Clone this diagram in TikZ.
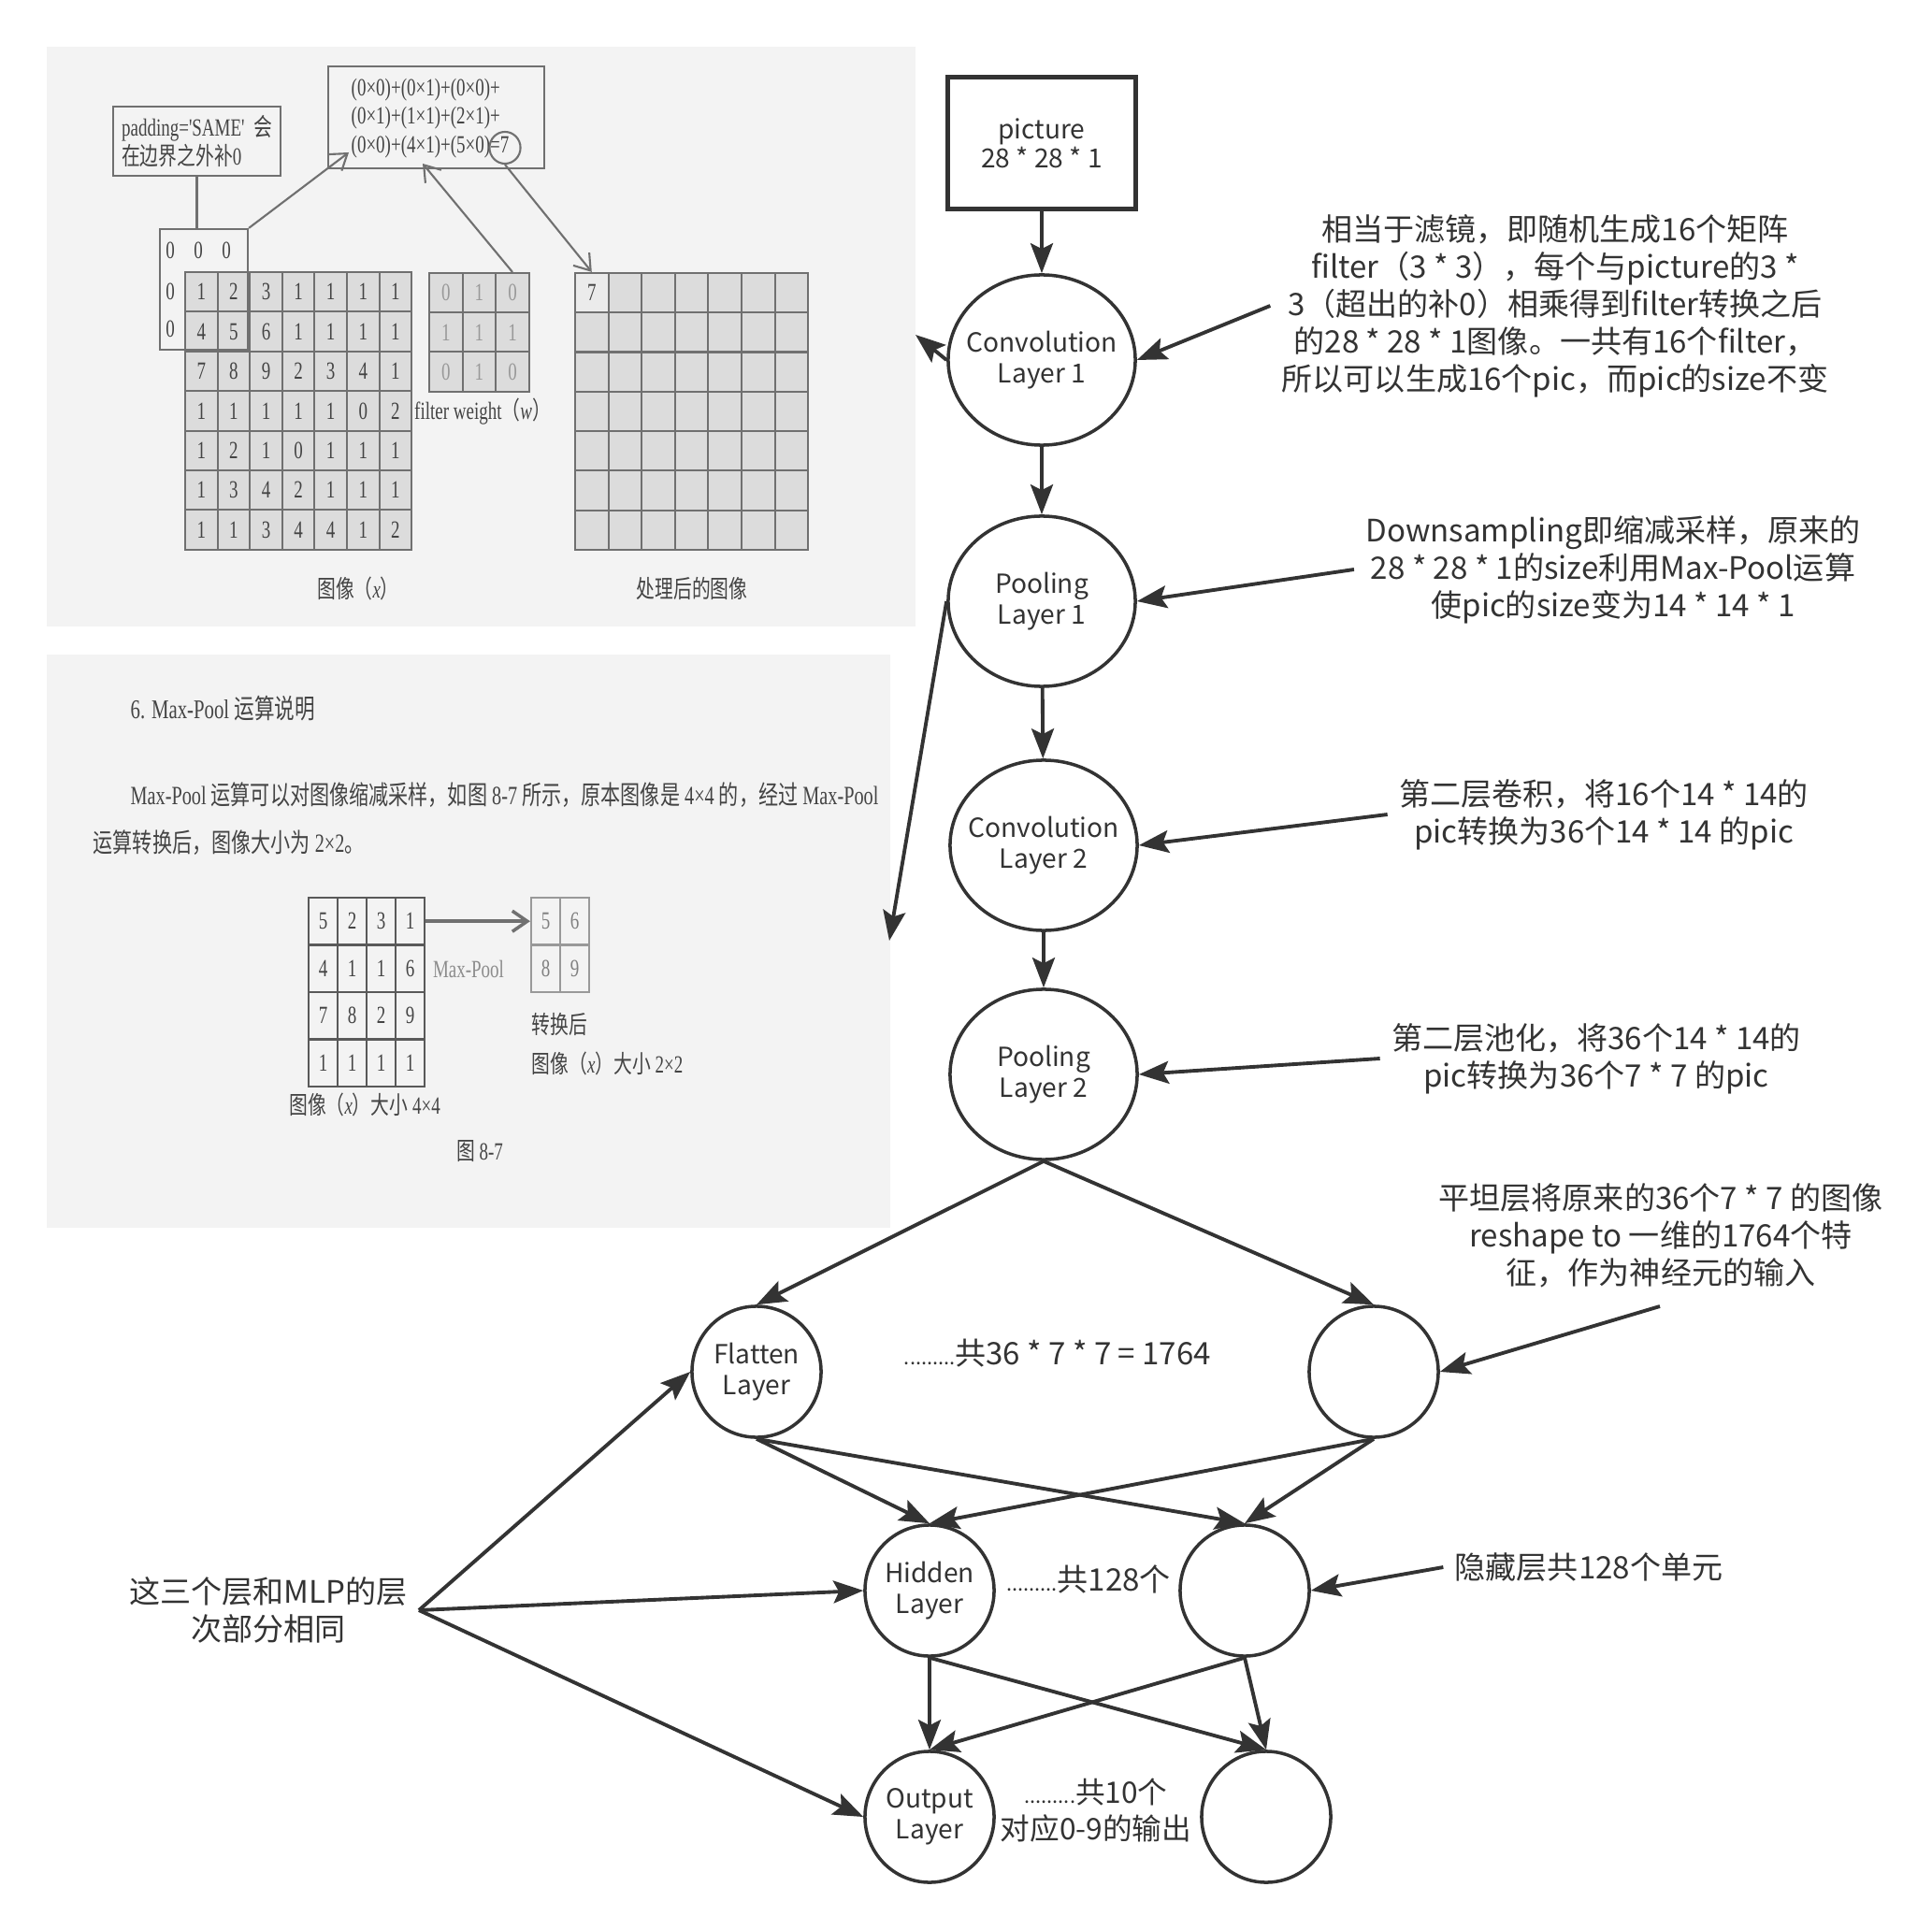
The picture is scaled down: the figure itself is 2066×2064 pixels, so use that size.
\documentclass[tikz,border=0pt]{standalone}
\usepackage{fontspec}
\setmainfont{Noto Sans CJK SC}
\newfontfamily\scanlat[FakeStretch=0.72]{Liberation Serif}
\newfontfamily\scancjk[FakeStretch=0.75]{Noto Sans CJK SC}
\usepackage{xcolor}
\usepackage{tikz}
\usetikzlibrary{shapes.geometric, arrows.meta, positioning}
\definecolor{ink}{HTML}{333333}
\definecolor{scanbg}{HTML}{F3F3F3}
\definecolor{scancell}{HTML}{DCDCDC}
\definecolor{scanline}{HTML}{707070}
\definecolor{scanink}{HTML}{444444}
\newcommand{\hanx}[1]{{\scancjk #1}}
\newcommand{\dotrun}{{\fontsize{6.2}{7}\selectfont .........}}
\tikzstyle{inputbox} = [rectangle, draw=ink, line width=1.3pt, minimum width=2.01cm, minimum height=1.41cm, align=center, text=ink, font=\fontsize{8}{8.8}\selectfont]
\tikzstyle{layer} = [ellipse, draw=ink, line width=1pt, minimum width=2cm, minimum height=1.82cm, inner sep=0pt]
\tikzstyle{unit} = [ellipse, draw=ink, line width=1pt, minimum width=1.38cm, minimum height=1.4cm, inner sep=0pt]
\tikzstyle{layertext} = [align=center, text=ink, font=\fontsize{8}{9.4}\selectfont]
\tikzstyle{note} = [align=center, text=ink, font=\fontsize{9.4}{11.4}\selectfont]
\tikzstyle{arrow} = [line width=1.1pt, draw=ink, -{Stealth[length=3.2mm, width=2.4mm, inset=0.6mm]}]
\tikzstyle{scanpage} = [rectangle, fill=scanbg, draw=none, inner sep=0pt]
\tikzstyle{scantext} = [text=scanink, inner sep=0pt, font=\scanlat\fontsize{7.5}{8.7}\selectfont]
\tikzstyle{cell} = [rectangle, draw=scanline, line width=0.6pt, fill=scancell, inner sep=0pt, text=scanink, font=\scanlat\fontsize{7.5}{8.7}\selectfont]
\tikzstyle{scanarrow} = [line width=0.6pt, draw=scanline, -{Straight Barb[length=1.6mm, width=2.2mm]}]

\begin{document}
\begin{tikzpicture}[x=0.01cm, y=-0.01cm]
\useasboundingbox (0,0) rectangle (2066,2064);

% scanned page 1: convolution with padding
\node (convpage) [scanpage, minimum width=9.29cm, minimum height=6.2cm] at (514.5,360) {};
\node (padnote) [draw=scanline, line width=0.6pt, minimum width=1.79cm, minimum height=0.74cm, align=left, scantext, inner sep=0pt] at (210.5,151) {padding='SAME'\ \ \hanx{会}\\\hanx{在边界之外补}0};
\node (sumbox) [draw=scanline, line width=0.6pt, minimum width=2.31cm, minimum height=1.09cm] at (466.5,125.5) {};
\node (sumtext) [scantext, anchor=west, align=left] at (375,126.5) {(0×0)+(0×1)+(0×0)+\\(0×1)+(1×1)+(2×1)+\\(0×0)+(4×1)+(5×0)=7};
\node (sumseven) [ellipse, draw=scanline, line width=0.6pt, minimum width=0.22cm, minimum height=0.34cm] at (540,158) {};
\foreach \row [count=\r from 0] in {{1,2,3,1,1,1,1},{4,5,6,1,1,1,1},{7,8,9,2,3,4,1},{1,1,1,1,1,0,2},{1,2,1,0,1,1,1},{1,3,4,2,1,1,1},{1,1,3,4,4,1,2}}
  \foreach \v [count=\c from 0] in \row
    \node (img-\r-\c) [cell, minimum width=0.346cm, minimum height=0.424cm] at (215.3+34.6*\c, 312.2+42.4*\r) {\v};
\node (zeropad) [draw=scanline, line width=0.6pt, minimum width=0.94cm, minimum height=1.29cm] at (218,309.5) {};
\node (zero-a) [scantext] at (182,268) {0};
\node (zero-b) [scantext] at (212,268) {0};
\node (zero-c) [scantext] at (242,268) {0};
\node (zero-d) [scantext] at (182,312) {0};
\node (zero-e) [scantext] at (182,352) {0};
\foreach \row [count=\r from 0] in {{0,1,0},{1,1,1},{0,1,0}}
  \foreach \v [count=\c from 0] in \row
    \node (flt-\r-\c) [cell, text=black!40, minimum width=0.356cm, minimum height=0.422cm] at (476.8+35.6*\c, 313.1+42.2*\r) {\v};
\foreach \r in {0,...,6}
  \foreach \c in {0,...,6}
    \node (out-\r-\c) [cell, minimum width=0.356cm, minimum height=0.423cm] at (632.8+35.6*\c, 313.1+42.3*\r) {};
\node (firstout) [cell, fill=black!8, minimum width=0.356cm, minimum height=0.423cm] at (out-0-0) {7};
\node (fltcap) [scantext] at (516,440) {filter weight\hanx{（}\textit{w}\hanx{）}};
\node (imgcap) [scantext] at (383,629) {\hanx{图像（}\textit{x}\hanx{）}};
\node (outcap) [scantext] at (740,629) {\hanx{处理后的图像}};
\coordinate (sumstart) at (373,163);
\coordinate (sumfilter) at (452,175);
\draw [draw=scanline, line width=0.6pt] (padnote.south) -- (padnote.south |- zeropad.north);
\draw [scanarrow] (zeropad.north east) -- (sumstart);
\draw [scanarrow] (flt-0-2.north) -- (sumfilter);
\draw [scanarrow] (sumseven.south) -- (out-0-0.north);

% scanned page 2: max-pool
\node (poolpage) [scanpage, minimum width=9.02cm, minimum height=6.13cm] at (501,1006.5) {};
\node (pooltitle) [scantext, anchor=west, font=\scanlat\fontsize{8.2}{10}\selectfont] at (139,758) {6. Max-Pool \hanx{运算说明}};
\node (poolline-a) [scantext, anchor=west, font=\scanlat\fontsize{8}{10}\selectfont] at (139,850) {Max-Pool \hanx{运算可以对图像缩减采样，如图} 8-7 \hanx{所示，原本图像是} 4×4 \hanx{的，经过} Max-Pool};
\node (poolline-b) [scantext, anchor=west, font=\scanlat\fontsize{8}{10}\selectfont] at (99,901) {\hanx{运算转换后，图像大小为} 2×2\hanx{。}};
\foreach \row [count=\r from 0] in {{5,2,3,1},{4,1,1,6},{7,8,2,9},{1,1,1,1}}
  \foreach \v [count=\c from 0] in \row
    \node (pin-\r-\c) [cell, fill=none, draw=black!65, line width=0.8pt, minimum width=0.31cm, minimum height=0.505cm] at (345.5+31*\c, 985.2+50.5*\r) {\v};
\foreach \row [count=\r from 0] in {{5,6},{8,9}}
  \foreach \v [count=\c from 0] in \row
    \node (pout-\r-\c) [cell, fill=none, draw=black!40, text=black!50, minimum width=0.31cm, minimum height=0.505cm] at (583.5+31*\c, 985.2+50.5*\r) {\v};
\draw [scanarrow, line width=1pt] (pin-0-3.east) -- (pout-0-0.west);
\node (poolop) [scantext, text=black!45] at (501,1036) {Max-Pool};
\node (poutcap-a) [scantext, anchor=west] at (568,1095) {\hanx{转换后}};
\node (poutcap-b) [scantext, anchor=west] at (568,1137) {\hanx{图像（}\textit{x}\hanx{）大小} 2×2};
\node (pincap) [scantext] at (390,1181) {\hanx{图像（}\textit{x}\hanx{）大小} 4×4};
\node (figcap) [scantext] at (513,1231) {\hanx{图} 8-7};

% network layers
\node (picture) [inputbox] at (1114,153) {picture\\28 * 28 * 1};
\node (conv1) [layer, label={[layertext]center:Convolution\\Layer 1}] at (1114,385) {};
\node (pool1) [layer, label={[layertext]center:Pooling\\Layer 1}] at (1114,643) {};
\node (conv2) [layer, label={[layertext]center:Convolution\\Layer 2}] at (1116,904) {};
\node (pool2) [layer, label={[layertext]center:Pooling\\Layer 2}] at (1116,1149) {};
\node (flatten) [unit, label={[layertext]center:Flatten\\Layer}] at (809,1467) {};
\node (flatlast) [unit] at (1469,1467) {};
\node (hidden) [unit, label={[layertext]center:Hidden\\Layer}] at (994,1701) {};
\node (hidlast) [unit] at (1331,1701) {};
\node (output) [unit, label={[layertext]center:Output\\Layer}] at (994,1943) {};
\node (outlast) [unit] at (1354,1943) {};

% counts between the units
\node (flatcount) [note] at (1131,1447) {\dotrun 共36 * 7 * 7 = 1764};
\node (hidcount) [note] at (1164,1689) {\dotrun 共128个};
\node (outcount) [note, font=\fontsize{9}{11}\selectfont] at (1172,1936) {\dotrun 共10个\\对应0-9的输出};

% notes
\node (noteconv) [note] at (1663,327) {相当于滤镜，即随机生成16个矩阵\\filter（3 * 3），每个与picture的3 *\\3（超出的补0）相乘得到filter转换之后\\的28 * 28 * 1图像。一共有16个filter，\\所以可以生成16个pic，而pic的size不变};
\node (notepool) [note] at (1725,609) {Downsampling即缩减采样，原来的\\28 * 28 * 1的size利用Max-Pool运算\\使pic的size变为14 * 14 * 1};
\node (noteconv2) [note] at (1715,871) {第二层卷积，将16个14 * 14的\\pic转换为36个14 * 14 的pic};
\node (notepool2) [note] at (1707,1132) {第二层池化，将36个14 * 14的\\pic转换为36个7 * 7 的pic};
\node (noteflat) [note] at (1776,1321) {平坦层将原来的36个7 * 7 的图像\\reshape to 一维的1764个特\\征，作为神经元的输入};
\node (notehid) [note] at (1699,1676) {隐藏层共128个单元};
\node (notemlp) [note] at (287,1722) {这三个层和MLP的层\\次部分相同};
\coordinate (convtip) at (979,358);
\coordinate (pooltip) at (951,1006);
\coordinate (flatfrom) at (1775,1397);

\draw [arrow] (picture) -- (conv1);
\draw [arrow] (conv1) -- (pool1);
\draw [arrow] (pool1) -- (conv2);
\draw [arrow] (conv2) -- (pool2);
\draw [arrow] (pool2.south) -- (flatten.north);
\draw [arrow] (pool2.south) -- (flatlast.north);
\draw [arrow] (flatten.south) -- (hidden.north);
\draw [arrow] (flatten.south) -- (hidlast.north);
\draw [arrow] (flatlast.south) -- (hidden.north);
\draw [arrow] (flatlast.south) -- (hidlast.north);
\draw [arrow] (hidden.south) -- (output.north);
\draw [arrow] (hidden.south) -- (outlast.north);
\draw [arrow] (hidlast.south) -- (output.north);
\draw [arrow] (hidlast.south) -- (outlast.north);
\draw [arrow] (conv1.west) -- (convtip);
\draw [arrow] (pool1.west) -- (pooltip);
\draw [arrow] (noteconv.west) -- (conv1.east);
\draw [arrow] (notepool.west) -- (pool1.east);
\draw [arrow] (noteconv2.west) -- (conv2.east);
\draw [arrow] (notepool2.west) -- (pool2.east);
\draw [arrow] (flatfrom) -- (flatlast.east);
\draw [arrow] (notehid.west) -- (hidlast.east);
\draw [arrow] (notemlp.east) -- (flatten.west);
\draw [arrow] (notemlp.east) -- (hidden.west);
\draw [arrow] (notemlp.east) -- (output.west);

\end{tikzpicture}
\end{document}
